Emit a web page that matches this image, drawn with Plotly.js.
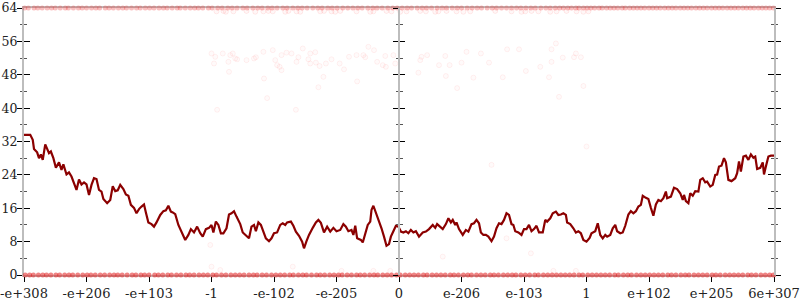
<!DOCTYPE html>
<html>
<head>
<meta charset="utf-8">
<script src="https://cdn.plot.ly/plotly-3.0.1.min.js"></script>
<style>html,body{margin:0;padding:0;background:#fff}#chart{width:800px;height:300px}</style>
</head>
<body>
<div id="chart"></div>
<script>
// x positions are in tick units: 0 = "-e+308" ... 6 = "0" ... 12 = "6e+307"
const tickPositions = [0,1,2,3,4,5,6,7,8,9,10,11,12];
const tickLabels = ["-e+308","-e+206","-e+103","-1","-e-102","-e-205","0","e-206","e-103","1","e+102","e+205","6e+307"];
const yTicks = [0,8,16,24,32,40,48,56,64];

// averaged error line (bits)
const lineX = [0,0.10,0.14,0.16,0.21,0.24,0.27,0.30,0.34,0.37,0.40,0.43,0.47,0.51,0.56,0.60,0.63,0.68,0.72,0.76,0.80,0.84,0.88,0.92,0.96,1.00,1.04,1.08,1.12,1.16,1.20,1.24,1.27,1.33,1.38,1.42,1.46,1.50,1.54,1.59,1.63,1.67,1.71,1.76,1.80,1.84,1.88,1.92,1.95,1.99,2.04,2.08,2.12,2.18,2.23,2.27,2.31,2.35,2.38,2.42,
2.47,2.52,2.58,2.63,2.67,2.72,2.77,2.82,2.86,2.91,2.96,3.00,3.03,3.07,3.11,3.15,3.19,3.24,3.28,3.32,3.36,3.40,3.46,3.50,3.55,3.60,3.64,3.68,3.71,3.75,3.79,3.83,3.87,3.92,3.96,4.00,4.05,4.10,4.14,4.18,4.21,4.27,4.31,4.35,4.40,4.45,4.48,4.52,4.56,4.62,4.67,4.71,4.75,4.80,
4.85,4.90,4.95,5.00,5.06,5.11,5.15,5.19,5.24,5.27,5.30,5.33,5.39,5.42,5.46,5.50,5.54,5.56,5.59,5.62,5.64,5.69,5.72,5.76,5.80,5.84,5.87,5.91,5.95,5.99,6.03,6.07,6.11,6.15,6.19,6.23,6.27,6.32,6.38,6.43,6.48,6.54,6.58,6.61,6.66,6.70,6.75,6.79,6.83,6.86,6.90,6.92,6.96,7.02,7.07,7.11,7.16,7.20,
7.24,7.28,7.31,7.35,7.39,7.43,7.48,7.52,7.56,7.60,7.64,7.68,7.72,7.76,7.80,7.83,7.86,7.91,7.96,8.00,8.04,8.08,8.12,8.16,8.20,8.24,8.30,8.34,8.37,8.42,8.46,8.51,8.55,8.59,8.63,8.67,8.69,8.74,8.79,8.83,8.87,8.91,8.95,9.00,9.05,9.08,9.14,9.18,9.22,9.26,9.30,9.33,9.38,9.42,9.46,9.49,9.54,9.58,9.62,
9.67,9.71,9.75,9.79,9.83,9.87,9.90,9.95,9.99,10.03,10.07,10.11,10.15,10.19,10.23,10.27,10.29,10.35,10.40,10.45,10.50,10.54,10.56,10.59,10.63,10.66,10.70,10.74,10.79,10.82,10.86,10.90,10.93,10.98,11.02,11.06,11.09,11.12,11.16,11.20,11.23,11.27,11.32,11.38,11.41,11.44,11.47,11.51,11.55,11.59,11.63,11.67,11.70,11.73,11.78,11.82,11.84,11.87,11.91,11.95,12.00];
const lineY = [33.6,33.6,32.4,30.2,29.4,28.0,28.9,27.6,31.3,30.4,29.2,29.6,28.0,25.7,27.0,25.2,26.5,24.1,24.6,23.6,22.0,20.4,22.9,21.7,22.2,21.7,19.2,21.6,23.2,23.0,20.4,20.0,18.2,17.2,18.0,21.3,20.1,20.3,21.6,20.6,19.3,19.0,16.8,16.1,14.8,15.8,16.4,16.9,15.0,12.6,12.2,11.6,12.6,14.4,15.3,15.5,16.6,15.2,15.0,14.6,
12.0,10.4,8.4,9.6,11.0,10.2,11.6,10.0,9.2,11.0,11.3,12.0,10.2,12.8,12.0,10.0,10.0,11.2,14.5,14.8,15.3,14.0,12.2,10.2,9.4,8.8,11.6,12.0,10.5,12.6,12.0,10.2,8.8,8.1,8.8,10.0,10.2,12.0,12.4,12.0,12.6,12.8,11.8,10.4,9.4,8.0,6.4,8.1,9.6,11.3,12.6,13.2,12.5,10.2,
11.6,10.4,11.3,10.5,10.8,12.2,11.6,10.5,10.8,9.6,11.8,8.8,8.4,7.8,10.0,12.0,12.8,15.6,16.6,15.3,14.5,12.8,11.2,9.2,7.0,7.4,9.2,10.5,11.8,11.6,10.4,10.2,10.5,10.0,10.8,10.2,10.5,9.2,10.2,10.4,11.0,12.0,11.3,12.2,11.6,11.0,12.2,13.6,12.6,13.2,12.0,12.6,11.0,9.6,10.8,10.4,12.2,12.4,
13.2,12.4,10.2,9.6,9.6,9.2,8.1,9.2,11.2,12.4,12.2,13.2,14.8,14.4,12.2,12.0,10.5,10.2,9.6,11.0,11.0,12.0,10.5,11.0,11.8,10.2,10.2,13.2,12.8,13.6,14.8,15.2,14.4,14.5,14.8,14.4,12.6,12.2,11.2,10.2,10.5,10.0,8.4,8.0,8.9,10.0,10.5,12.4,9.6,8.8,9.6,9.2,9.6,11.2,12.0,10.5,10.0,10.2,11.8,
14.5,15.3,14.8,15.3,16.4,16.8,19.0,18.5,18.2,16.1,14.2,16.9,18.0,17.7,18.4,20.0,18.4,18.8,20.9,20.6,19.6,18.0,19.2,17.7,17.2,19.6,19.0,20.1,20.0,22.8,23.2,22.2,22.4,21.2,21.6,24.0,24.1,26.0,26.2,28.0,27.0,22.8,22.5,23.2,24.4,27.2,24.8,28.4,28.6,27.6,28.9,28.1,28.4,25.4,25.7,27.0,24.1,26.0,28.4,28.6,28.6];

// individual sample errors: points at 64 bits
const topX = [0.01,0.07,0.16,0.22,0.29,0.37,0.44,0.5,0.58,0.66,0.71,0.79,0.87,0.93,1.0,1.08,1.15,1.21,1.3,1.36,1.43,1.51,1.58,1.64,1.72,1.8,1.86,1.94,2.01,2.08,2.16,2.23,2.29,2.37,2.45,2.5,2.58,2.66,2.73,2.79,2.86,2.95,3.01,3.1,3.17,3.26,3.33,3.41,3.5,3.57,3.66,3.74,3.81,3.9,3.97,4.05,4.14,4.21,4.3,4.38,4.45,4.53,4.62,4.7,4.77,4.86,4.93,5.01,5.1,5.18,5.26,5.34,5.41,5.5,5.58,5.65,5.73,5.82,5.9,5.97,6.05,6.13,6.2,6.29,6.37,6.44,6.52,6.61,6.69,6.76,6.85,6.93,7.0,7.09,7.17,7.25,7.32,7.41,7.49,7.56,7.64,7.72,7.8,7.88,7.95,8.03,8.11,8.18,8.27,8.35,8.42,8.5,8.57,8.63,8.7,8.76,8.83,8.88,8.95,9.01,9.07,9.13,9.2,9.25,9.32,9.38,9.44,9.5,9.57,9.62,9.69,9.75,9.81,9.87,9.93,10.0,10.06,10.12,10.18,10.25,10.31,10.37,10.43,10.5,10.56,10.62,10.68,10.75,10.81,10.87,10.93,11.0,11.06,11.12,11.18,11.25,11.31,11.37,11.43,11.5,11.56,11.62,11.68,11.75,11.81,11.87,11.93,11.99];
// second row just below 64 bits
const top2X = [3.08,3.19,3.23,3.35,3.56,3.70,3.83,3.91,3.98,4.18,4.23,4.36,4.42,4.74,4.80,4.92,4.98,5.06,5.32,5.54,5.59,5.80,5.88,6.02,6.12,6.34,6.43,6.58,6.63,6.76,6.92,7.03,7.14,7.54,7.80,7.96,8.02,8.12,8.23,8.42,8.52,8.68,8.84,8.95,9.03];
const top2Y = [63.2,63.3,63.1,63.2,63.3,63.1,63.2,63.3,63.2,63.1,63.3,63.2,63.1,63.2,63.3,63.2,63.1,63.3,63.2,63.1,63.2,63.3,63.2,63.1,63.2,63.3,63.2,63.1,63.2,63.3,63.2,63.1,63.2,63.3,63.2,63.1,63.2,63.3,63.2,63.1,63.2,63.3,63.2,63.1,63.2];
// points at 0 bits
const bottomX = [0.02,0.09,0.15,0.23,0.3,0.36,0.43,0.51,0.57,0.65,0.72,0.78,0.86,0.94,1.01,1.07,1.14,1.22,1.29,1.37,1.44,1.5,1.57,1.65,1.73,1.79,1.87,1.93,2.0,2.09,2.15,2.22,2.3,2.36,2.44,2.51,2.59,2.65,2.72,2.8,2.87,2.94,3.02,3.08,3.16,3.23,3.31,3.38,3.45,3.52,3.6,3.67,3.73,3.81,3.88,3.96,4.03,4.1,4.17,4.25,4.31,4.39,4.46,4.52,4.6,4.68,4.74,4.81,4.89,4.96,5.03,5.09,5.17,5.24,5.32,5.38,5.45,5.53,5.6,5.66,5.74,5.81,5.88,5.96,6.02,6.1,6.17,6.24,6.31,6.39,6.45,6.53,6.6,6.67,6.74,6.82,6.88,6.95,7.03,7.1,7.16,7.24,7.31,7.38,7.46,7.52,7.59,7.67,7.74,7.81,7.87,7.95,8.02,8.09,8.17,8.23,8.31,8.38,8.45,8.52,8.59,8.66,8.73,8.8,8.88,8.94,9.02,9.09,9.16,9.23,9.3,9.37,9.45,9.51,9.59,9.66,9.72,9.8,9.87,9.94,10.01,10.08,10.15,10.22,10.3,10.36,10.43,10.51,10.58,10.64,10.72,10.79,10.86,10.93,11.01,11.07,11.14,11.22,11.29,11.36,11.43,11.5,11.58,11.64,11.71,11.79,11.86,11.93,11.99];
// scattered samples between
const midX = [3.00,3.06,3.04,3.18,3.27,3.30,3.34,3.38,3.41,3.28,3.56,3.68,3.71,3.83,3.84,3.98,4.02,4.05,4.09,4.12,4.12,4.20,4.28,4.36,4.39,4.46,3.89,4.35,3.09,4.55,4.58,4.66,4.58,4.67,4.73,4.79,4.71,4.83,4.92,5.05,5.12,5.20,5.32,5.33,5.43,5.46,5.51,5.60,5.65,5.74,5.78,5.79,5.91,5.94,6.31,6.34,6.36,6.45,6.64,6.74,6.75,6.81,6.93,7.00,7.08,7.19,7.31,7.44,7.66,7.73,7.92,8.03,8.26,8.40,8.44,8.51,8.44,8.56,8.62,8.80,8.83,8.91,8.95,
2.98,3.00,3.14,4.30,5.08,5.59,5.86,7.48,7.72,6.70,8.11,8.47,8.83,9.00];
const midY = [53.1,52.3,50.7,53.1,51.1,52.7,53.1,51.9,51.7,48.7,51.5,51.9,52.2,53.5,47.1,53.9,51.5,50.3,49.9,49.1,52.7,53.3,53.1,51.1,52.2,54.3,42.4,39.6,39.6,51.7,53.1,53.4,50.7,50.9,50.1,47.5,45.0,50.7,51.7,50.7,49.3,52.3,52.7,46.4,52.7,52.2,54.7,53.9,51.1,50.3,52.5,49.9,52.7,50.7,48.5,51.5,52.3,52.7,50.3,52.5,47.7,50.3,44.8,50.9,53.5,47.3,53.1,50.9,47.4,54.1,54.1,48.9,49.9,47.4,54.1,55.5,51.1,42.7,52.1,52.2,53.1,52.2,45.3,
7.2,2.0,1.2,2.0,1.0,1.0,1.0,26.4,8.8,4.4,5.2,1.0,1.0,30.8];

const font = {family: "DejaVu Serif", size: 13, color: "#222"};
const yFont = {family: "DejaVu Serif", size: 12.5, color: "#222"};
const axisGray = "#bdbdbd";

const traces = [
  {x: bottomX, y: bottomX.map(() => 0), type: "scatter", mode: "markers", cliponaxis: false, hoverinfo: "skip",
   marker: {symbol: "circle", size: 5, color: "rgba(225,30,30,0.55)", line: {width: 0}}},
  {x: topX, y: topX.map(() => 64), type: "scatter", mode: "markers", cliponaxis: false, hoverinfo: "skip",
   marker: {symbol: "circle", size: 5, color: "rgba(235,40,40,0.3)", line: {width: 0}}},
  {x: top2X, y: top2Y, type: "scatter", mode: "markers", cliponaxis: false, hoverinfo: "skip",
   marker: {symbol: "circle", size: 5, color: "rgba(255,0,0,0.03)", line: {width: 1, color: "rgba(255,0,0,0.08)"}}},
  {x: midX, y: midY, type: "scatter", mode: "markers", hoverinfo: "skip",
   marker: {symbol: "circle", size: 5, color: "rgba(255,0,0,0.02)", line: {width: 1, color: "rgba(255,0,0,0.06)"}}},
  {x: lineX, y: lineY, type: "scatter", mode: "lines", hoverinfo: "skip",
   line: {color: "#8b0000", width: 2.2}},
  {x: [], y: [], yaxis: "y2", type: "scatter", hoverinfo: "skip", showlegend: false},
  {x: [], y: [], yaxis: "y3", type: "scatter", hoverinfo: "skip", showlegend: false},
  {x: [], y: [], yaxis: "y4", type: "scatter", hoverinfo: "skip", showlegend: false},
  {x: [], y: [], yaxis: "y5", type: "scatter", hoverinfo: "skip", showlegend: false},
  {x: [], y: [], yaxis: "y6", type: "scatter", hoverinfo: "skip", showlegend: false}
];

const yBase = {range: [0, 64], tickvals: yTicks, showgrid: false, zeroline: false, fixedrange: true,
  tickcolor: "#000", tickwidth: 1};
const minorOut = {ticks: "outside", ticklen: 2, dtick: 4, tick0: 0, tickcolor: "#555", tickwidth: 1, showgrid: false};
const minorIn = {ticks: "inside", ticklen: 3, dtick: 4, tick0: 0, tickcolor: "#555", tickwidth: 1, showgrid: false};

const layout = {
  width: 800, height: 300,
  margin: {l: 24, r: 26, t: 8, b: 25, pad: 0},
  paper_bgcolor: "#fff", plot_bgcolor: "#fff",
  showlegend: false,
  font: font,
  xaxis: {range: [0, 12], tickvals: tickPositions, ticktext: tickLabels, showgrid: false, zeroline: false,
    ticks: "outside", ticklen: 5, tickcolor: "#000", tickwidth: 1, tickfont: font,
    showline: true, linecolor: axisGray, linewidth: 2, mirror: true, layer: "below traces", fixedrange: true},
  yaxis: Object.assign({}, yBase, {side: "left", ticks: "outside", ticklen: 5, tickfont: yFont, ticklabelstandoff: -3,
    showline: true, linecolor: axisGray, linewidth: 2, minor: minorOut, layer: "below traces"}),
  yaxis2: Object.assign({}, yBase, {overlaying: "y", side: "left", anchor: "x", ticks: "inside", ticklen: 6,
    showticklabels: false, showline: false, minor: minorIn}),
  yaxis3: Object.assign({}, yBase, {overlaying: "y", side: "left", anchor: "free", position: 0.5, ticks: "outside", ticklen: 5,
    showticklabels: false, showline: true, linecolor: axisGray, linewidth: 2, minor: minorOut}),
  yaxis4: Object.assign({}, yBase, {overlaying: "y", side: "left", anchor: "free", position: 0.5, ticks: "inside", ticklen: 5,
    showticklabels: false, showline: false, minor: minorIn}),
  yaxis5: Object.assign({}, yBase, {overlaying: "y", side: "right", anchor: "x", ticks: "outside", ticklen: 5,
    showticklabels: false, showline: true, linecolor: axisGray, linewidth: 2, minor: minorOut}),
  yaxis6: Object.assign({}, yBase, {overlaying: "y", side: "right", anchor: "x", ticks: "inside", ticklen: 6,
    showticklabels: false, showline: false, minor: minorIn})
};

Plotly.newPlot("chart", traces, layout, {staticPlot: true, displayModeBar: false});
</script>
</body>
</html>
